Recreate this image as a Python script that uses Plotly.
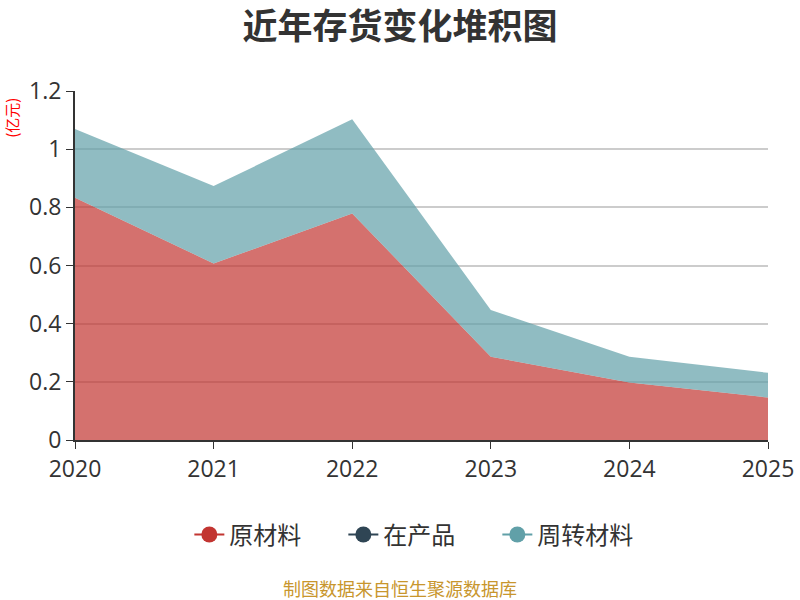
import plotly.graph_objects as go

"""
Gráfico de áreas apiladas: evolución del inventario (亿元).
"""

YEARS = [2020, 2021, 2022, 2023, 2024, 2025]
RAW_MATERIALS = [0.833, 0.607, 0.779, 0.286, 0.198, 0.146]   # 原材料
WORK_IN_PROGRESS = [0, 0, 0, 0, 0, 0]                      # 在产品
TURNOVER_MATERIALS = [0.236, 0.266, 0.324, 0.161, 0.088, 0.085]  # 周转材料

SERIES = [
    ("原材料", RAW_MATERIALS, "#c23531", "rgba(194,53,49,0.7)"),
    ("在产品", WORK_IN_PROGRESS, "#2f4554", "rgba(47,69,84,0.7)"),
    ("周转材料", TURNOVER_MATERIALS, "#61a0a8", "rgba(97,160,168,0.7)"),
]

FONT = "Noto Sans CJK SC, Microsoft YaHei, sans-serif"
NUM_FONT = "Open Sans, Noto Sans CJK SC, sans-serif"

fig = go.Figure()

# Áreas apiladas (sin leyenda propia)
for name, values, color, fill in SERIES:
    fig.add_trace(
        go.Scatter(
            x=YEARS,
            y=values,
            name=name,
            stackgroup="inv",
            mode="lines",
            line=dict(width=0, color=color),
            fillcolor=fill,
            showlegend=False,
            hoverinfo="x+y+name",
        )
    )

# Entradas de leyenda con línea + círculo, como en el original
for name, values, color, fill in SERIES:
    fig.add_trace(
        go.Scatter(
            x=[None],
            y=[None],
            name=name,
            mode="lines+markers",
            line=dict(color=color, width=2),
            marker=dict(color=color, size=20),
        )
    )

fig.update_layout(
    width=800,
    height=600,
    template="plotly_white",
    font=dict(family=FONT, color="#333333"),
    margin=dict(l=75, r=32, t=91, b=160, autoexpand=False),
    title=dict(
        text="<b>近年存货变化堆积图</b>",
        x=0.5,
        xanchor="center",
        y=0.955,
        yanchor="middle",
        font=dict(size=35, color="#333333", family=FONT),
    ),
    legend=dict(
        orientation="h",
        traceorder="normal",
        x=0.165,
        xanchor="left",
        y=-0.272,
        yanchor="middle",
        font=dict(size=24, color="#333333"),
        entrywidth=109,
        entrywidthmode="pixels",
    ),
    plot_bgcolor="white",
    paper_bgcolor="white",
)

fig.update_xaxes(
    range=[2020, 2025],
    dtick=1,
    showgrid=False,
    showline=True,
    linecolor="#333333",
    linewidth=2,
    ticks="outside",
    ticklen=7,
    tickcolor="#333333",
    tickfont=dict(size=23, color="#333333", family=NUM_FONT),
    zeroline=False,
    automargin=False,
)
fig.update_yaxes(
    range=[0, 1.2],
    dtick=0.2,
    showgrid=True,
    gridcolor="#cccccc",
    gridwidth=1.5,
    showline=True,
    linecolor="#333333",
    linewidth=2,
    ticks="outside",
    ticklen=7,
    tickcolor="#333333",
    tickfont=dict(size=23, color="#333333", family=NUM_FONT),
    zeroline=False,
    automargin=False,
)

# Unidad del eje Y y nota de la fuente
fig.add_annotation(
    text="(亿元)",
    xref="paper",
    yref="paper",
    x=-0.091,
    xanchor="center",
    y=0.923,
    yanchor="middle",
    showarrow=False,
    textangle=-90,
    font=dict(size=15, color="#ff0000"),
)
fig.add_annotation(
    text="制图数据来自恒生聚源数据库",
    xref="paper",
    yref="paper",
    x=0.469,
    y=-0.425,
    xanchor="center",
    yanchor="middle",
    showarrow=False,
    font=dict(size=18, color="#c8962d"),
)

# Quitamos el margen del body para que la figura ocupe la ventana exacta
fig.write_html(
    "out.html",
    config={"displayModeBar": False},
    post_script="document.body.style.margin='0';",
)
